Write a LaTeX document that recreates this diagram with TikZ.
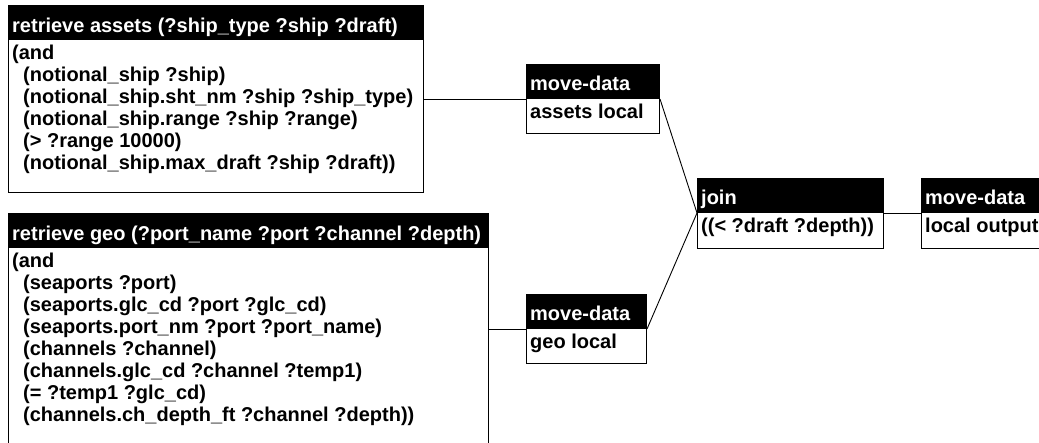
\documentclass[tikz,border=0pt]{standalone}
\usepackage{fontspec}
\setmainfont{Liberation Sans}
\tikzset{
  hdr/.style={fill=black, draw=black, line width=1pt, inner sep=0pt, anchor=north west},
  bdy/.style={fill=white, draw=black, line width=1pt, inner sep=0pt, anchor=north west},
  htxt/.style={text=white, font=\bfseries\fontsize{20}{22}\selectfont, anchor=base west, inner sep=0pt},
  btxt/.style={text=black, font=\bfseries\fontsize{20}{22}\selectfont, anchor=base west, inner sep=0pt},
  link/.style={draw=black, line width=0.9pt}
}
\begin{document}
\begin{tikzpicture}[x=1pt,y=-1pt]
\useasboundingbox (0,0) rectangle (1039,443);
\clip (0,0) rectangle (1039,443);
\fill[white] (0,0) rectangle (1039,443);

% retrieve assets
\node[hdr, minimum width=415pt, minimum height=34pt] (b1h) at (8,5) {};
\node[bdy, minimum width=415pt, minimum height=153pt] (b1b) at (8,39) {};
\node[htxt] (b1t) at (12,33) {retrieve assets (?ship\_type ?ship ?draft)};
\node[btxt] (b1l1) at (12,60) {(and};
\node[btxt] (b1l2) at (23,82) {(notional\_ship ?ship)};
\node[btxt] (b1l3) at (23,104) {(notional\_ship.sht\_nm ?ship ?ship\_type)};
\node[btxt] (b1l4) at (23,126) {(notional\_ship.range ?ship ?range)};
\node[btxt] (b1l5) at (23,148) {(> ?range 10000)};
\node[btxt] (b1l6) at (23,170) {(notional\_ship.max\_draft ?ship ?draft))};

% retrieve geo
\node[hdr, minimum width=480pt, minimum height=34pt] (b2h) at (8,213) {};
\node[bdy, minimum width=480pt, minimum height=230pt] (b2b) at (8,247) {};
\node[htxt] (b2t) at (12,241) {retrieve geo (?port\_name ?port ?channel ?depth)};
\node[btxt] (b2l1) at (12,268) {(and};
\node[btxt] (b2l2) at (23,290) {(seaports ?port)};
\node[btxt] (b2l3) at (23,312) {(seaports.glc\_cd ?port ?glc\_cd)};
\node[btxt] (b2l4) at (23,334) {(seaports.port\_nm ?port ?port\_name)};
\node[btxt] (b2l5) at (23,356) {(channels ?channel)};
\node[btxt] (b2l6) at (23,378) {(channels.glc\_cd ?channel ?temp1)};
\node[btxt] (b2l7) at (23,400) {(= ?temp1 ?glc\_cd)};
\node[btxt] (b2l8) at (23,422) {(channels.ch\_depth\_ft ?channel ?depth))};

% move-data (assets)
\node[hdr, minimum width=133pt, minimum height=34pt] (m1h) at (526,64) {};
\node[bdy, minimum width=133pt, minimum height=35pt] (m1b) at (526,98) {};
\node[htxt] (m1t) at (530,91) {move-data};
\node[btxt] (m1l) at (530,119) {assets local};

% move-data (geo)
\node[hdr, minimum width=120pt, minimum height=34pt] (m2h) at (526,294) {};
\node[bdy, minimum width=120pt, minimum height=35pt] (m2b) at (526,328) {};
\node[htxt] (m2t) at (530,321) {move-data};
\node[btxt] (m2l) at (530,349) {geo local};

% join
\node[hdr, minimum width=186pt, minimum height=34pt] (jh) at (697,178) {};
\node[bdy, minimum width=186pt, minimum height=36pt] (jb) at (697,212) {};
\node[htxt] (jt) at (701,205) {join};
\node[btxt] (jl) at (701,233) {((< ?draft ?depth))};

% move-data (output)
\node[hdr, minimum width=140pt, minimum height=34pt] (oh) at (921,178) {};
\node[bdy, minimum width=140pt, minimum height=36pt] (ob) at (921,212) {};
\node[htxt] (ot) at (925,205) {move-data};
\node[btxt] (ol) at (925,233) {local output};

% connectors
\draw[link] (b1b.east |- m1h.south west) -- (m1h.south west);
\draw[link] (b2b.east |- m2h.south west) -- (m2h.south west);
\draw[link] (m1h.south east) -- (jh.south west);
\draw[link] (m2h.south east) -- (jh.south west);
\draw[link] (jh.south east) -- (oh.south west);
\end{tikzpicture}
\end{document}
